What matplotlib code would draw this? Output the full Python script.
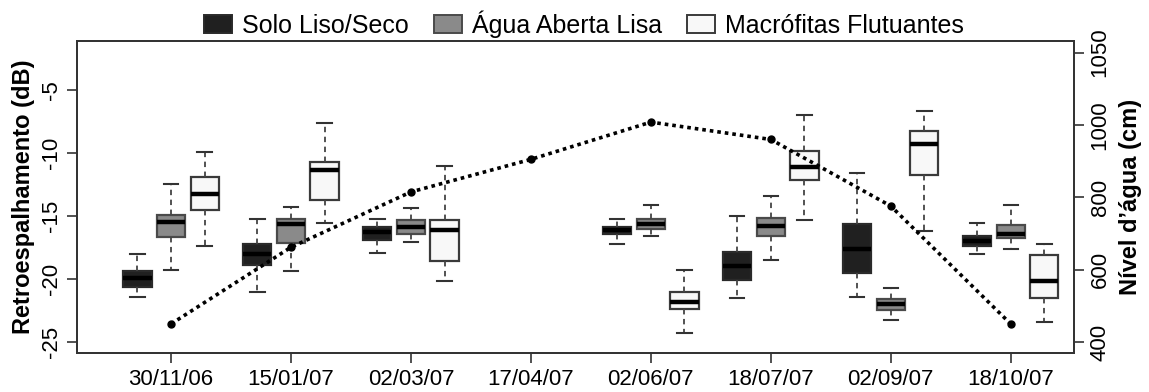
import matplotlib.pyplot as plt
import matplotlib.ticker as ticker
from matplotlib.patches import Patch

plt.rcParams['font.family'] = ['Liberation Sans', 'DejaVu Sans']

# dates on the x axis (positions 1..8)
dates = ['30/11/06', '15/01/07', '02/03/07', '17/04/07',
         '02/06/07', '18/07/07', '02/09/07', '18/10/07']

# water level (cm), one value per date
nivel = [450, 662, 815, 905, 1008, 960, 776, 450]

# boxplot stats per class: (whisker low, q1, median, q3, whisker high)
# date index of each box (no images on 17/04/07)
box_dates = [0, 1, 2, 4, 5, 6, 7]
solo = [(-21.45, -20.6, -19.9, -19.4, -18.0),
        (-21.05, -18.9, -18.05, -17.2, -15.25),
        (-17.95, -16.9, -16.3, -15.85, -15.25),
        (-17.25, -16.45, -16.1, -15.85, -15.25),
        (-21.5, -20.05, -18.95, -17.85, -15.0),
        (-21.45, -19.5, -17.6, -15.65, -11.6),
        (-18.0, -17.4, -17.0, -16.6, -15.55)]
agua = [(-19.25, -16.7, -15.5, -14.9, -12.45),
        (-19.35, -17.15, -15.65, -15.25, -14.25),
        (-17.05, -16.45, -15.9, -15.35, -14.35),
        (-16.55, -16.05, -15.65, -15.25, -14.15),
        (-18.5, -16.6, -15.8, -15.15, -13.4),
        (-23.25, -22.45, -22.0, -21.6, -20.7),
        (-17.6, -16.75, -16.45, -15.7, -14.15)]
macro = [(-17.35, -14.5, -13.25, -11.9, -9.95),
         (-15.55, -13.75, -11.35, -10.7, -7.65),
         (-20.15, -18.6, -16.15, -15.35, -11.0),
         (-24.25, -22.4, -21.85, -21.05, -19.3),
         (-15.35, -12.15, -11.1, -9.85, -6.95),
         (-16.2, -11.75, -9.25, -8.25, -6.7),
         (-23.45, -21.5, -20.2, -18.1, -17.25)]

labels = ['Solo Liso/Seco', 'Água Aberta Lisa', 'Macrófitas Flutuantes']
fills = ['#202020', '#8a8a8a', '#f8f8f8']
edges = ['#2a2a2a', '#4a4a4a', '#3a3a3a']
offsets = [-0.28, 0.0, 0.28]

fig = plt.figure(figsize=(11.49, 3.92), dpi=100)
ax = fig.add_axes([0.0673, 0.0987, 0.8677, 0.7974])

for cls, fc, ec, off in zip([solo, agua, macro], fills, edges, offsets):
    stats = [dict(whislo=s[0], q1=s[1], med=s[2], q3=s[3], whishi=s[4], fliers=[])
             for s in cls]
    pos = [d + 1 + off for d in box_dates]
    ax.bxp(stats, positions=pos, widths=0.235, patch_artist=True, showfliers=False,
           boxprops=dict(facecolor=fc, edgecolor=ec, linewidth=1.6),
           medianprops=dict(color='black', linewidth=3.2, solid_capstyle='butt'),
           whiskerprops=dict(color='#444444', linewidth=1.3, linestyle=(0, (3, 2.5))),
           capprops=dict(color='#333333', linewidth=1.5),
           capwidths=0.12)

ax.set_xlim(0.219, 8.53)
ax.set_ylim(-25.9, -1.09)
ax.set_xticks(range(1, 9))
ax.set_xticklabels(dates)
ax.set_yticks([-25, -20, -15, -10, -5])
ax.set_yticklabels(['-25', '-20', '-15', '-10', '-5'], rotation=90, va='center')
ax.tick_params(axis='both', direction='out', length=7, width=1.2, color='#333333',
               labelsize=16, pad=4)
ax.set_ylabel('Retroespalhamento (dB)', fontsize=17, fontweight='bold', labelpad=4)
for sp in ax.spines.values():
    sp.set_color('#333333')
    sp.set_linewidth(1.3)

ax2 = ax.twinx()
ax2.plot(range(1, 9), nivel, color='black', linestyle=(0, (1, 1.1)), linewidth=2.6,
         marker='o', markersize=5)
ax2.set_ylim(368.8, 1233)
ax2.yaxis.set_major_locator(ticker.FixedLocator([400, 600, 800, 1000, 1200]))
ax2.yaxis.set_major_formatter(ticker.FixedFormatter(['400', '600', '800', '1000', '1050']))
for t in ax2.get_yticklabels():
    t.set_rotation(90)
    t.set_va('center')
ax2.tick_params(axis='y', direction='out', length=7, width=1.2, color='#333333',
                labelsize=16, pad=4)
ax2.set_ylabel('Nível d’água (cm)', fontsize=17, fontweight='bold', labelpad=6)
for sp in ax2.spines.values():
    sp.set_color('#333333')
    sp.set_linewidth(1.3)

handles = [Patch(facecolor=fc, edgecolor=ec, linewidth=1.4) for fc, ec in zip(fills, edges)]
fig.legend(handles, labels, loc='center', bbox_to_anchor=(0.508, 0.939), ncol=3,
           frameon=False, fontsize=18, handlelength=1.12, handleheight=0.72,
           handletextpad=0.4, columnspacing=1.0)

fig.savefig('out.png', dpi=100)
